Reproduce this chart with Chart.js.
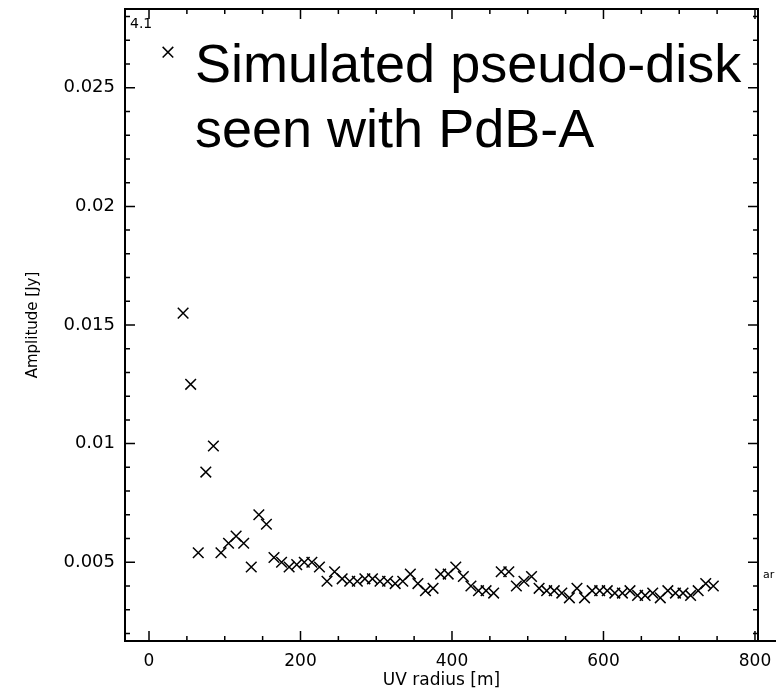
<!DOCTYPE html>
<html>
<head>
<meta charset="utf-8">
<script src="https://cdn.jsdelivr.net/npm/chart.js@4/dist/chart.umd.min.js"></script>
<style>
  html, body { margin: 0; padding: 0; background: #fff; }
  #c { display: block; }
</style>
</head>
<body>
<canvas id="c" width="776" height="691"></canvas>
<script>
// ---- data ----
const uvRadius = [25, 45, 55, 65, 75, 85, 95, 105, 115, 125, 135, 145, 155, 165, 175, 185, 195, 205, 215, 225,
  235, 245, 255, 265, 275, 285, 295, 305, 315, 325, 335, 345, 355, 365, 375, 385, 395, 405, 415, 425,
  435, 445, 455, 465, 475, 485, 495, 505, 515, 525, 535, 545, 555, 565, 575, 585, 595, 605, 615, 625,
  635, 645, 655, 665, 675, 685, 695, 705, 715, 725, 735, 745];
const amplitude = [0.0265, 0.0155, 0.0125, 0.0054, 0.0088, 0.0099, 0.0054, 0.0058, 0.0061, 0.0058, 0.0048, 0.0070, 0.0066, 0.0052, 0.0050, 0.0048, 0.0049, 0.0050, 0.0050, 0.0048,
  0.0042, 0.0046, 0.0043, 0.0042, 0.0042, 0.0043, 0.0043, 0.0042, 0.0042, 0.0041, 0.0042, 0.0045, 0.0041, 0.0038, 0.0039, 0.0045, 0.0045, 0.0048, 0.0044, 0.0040,
  0.0038, 0.0038, 0.0037, 0.0046, 0.0046, 0.0040, 0.0042, 0.0044, 0.0039, 0.0038, 0.0038, 0.0037, 0.0035, 0.0039, 0.0035, 0.0038, 0.0038, 0.0038, 0.0037, 0.0037,
  0.0038, 0.0036, 0.0036, 0.0037, 0.0035, 0.0038, 0.0037, 0.0037, 0.0036, 0.0038, 0.0041, 0.0040];
const xTickLabels = [0, 200, 400, 600, 800];
const yTickLabels = [0.005, 0.01, 0.015, 0.02, 0.025];
const xMinorStep = 50, yMinorStep = 0.001;
const xRange = [-31.7, 804];
const yRange = [0.00168, 0.02832];
const xTitle = 'UV radius [m]';
const yTitle = 'Amplitude [Jy]';
const titleLines = ['Simulated pseudo-disk', 'seen with PdB-A'];
const cornerLabel = '4.1';
const edgeLabel = 'ar';

const points = uvRadius.map((r, i) => ({ x: r, y: amplitude[i] }));

const framePlugin = {
  id: 'frameTicks',
  afterDraw(chart) {
    const { ctx, chartArea: a, scales: { x, y } } = chart;
    ctx.save();
    ctx.strokeStyle = '#000';
    ctx.lineWidth = 2;
    ctx.strokeRect(a.left, a.top, a.right - a.left, a.bottom - a.top);
    ctx.beginPath();
    ctx.moveTo(a.right, a.bottom);
    ctx.lineTo(chart.width, a.bottom);
    ctx.stroke();

    ctx.lineWidth = 1.5;
    ctx.beginPath();
    for (let i = Math.ceil(x.min / xMinorStep); i * xMinorStep <= x.max; i++) {
      const v = i * xMinorStep;
      const px = x.getPixelForValue(v);
      const len = xTickLabels.includes(v) ? 10 : 5;
      ctx.moveTo(px, a.bottom); ctx.lineTo(px, a.bottom - len);
      ctx.moveTo(px, a.top); ctx.lineTo(px, a.top + len);
    }
    for (let i = Math.ceil(y.min / yMinorStep - 1e-9); i * yMinorStep <= y.max + 1e-12; i++) {
      const v = i * yMinorStep;
      const py = y.getPixelForValue(v);
      const len = yTickLabels.some(t => Math.abs(t - v) < 1e-9) ? 10 : 5;
      ctx.moveTo(a.left, py); ctx.lineTo(a.left + len, py);
      ctx.moveTo(a.right, py); ctx.lineTo(a.right - len, py);
    }
    ctx.stroke();

    ctx.fillStyle = '#000';
    ctx.textAlign = 'left';
    ctx.textBaseline = 'alphabetic';
    ctx.font = '14px "DejaVu Sans"';
    ctx.fillText(cornerLabel, a.left + 5, a.top + 19);
    ctx.font = '11px "DejaVu Sans"';
    ctx.fillText(edgeLabel, a.right + 5, y.getPixelForValue(0.0045) + 4);

    ctx.font = '54px "Liberation Sans", Arial, sans-serif';
    ctx.fillText(titleLines[0], 195, 82);
    ctx.fillText(titleLines[1], 195, 147);
    ctx.restore();
  }
};

new Chart(document.getElementById('c'), {
  type: 'scatter',
  data: {
    datasets: [{
      data: points,
      pointStyle: 'crossRot',
      pointRadius: 7.5,
      pointHoverRadius: 7.5,
      borderColor: '#000',
      backgroundColor: '#000',
      pointBorderWidth: 1.5,
      showLine: false
    }]
  },
  options: {
    responsive: false,
    animation: false,
    events: [],
    layout: { padding: { top: 7, right: 18, left: 0, bottom: 0 } },
    plugins: { legend: { display: false }, tooltip: { enabled: false }, title: { display: false } },
    scales: {
      x: {
        type: 'linear',
        position: 'bottom',
        min: xRange[0], max: xRange[1],
        grid: { display: false, drawTicks: false },
        border: { display: false },
        afterBuildTicks(s) { s.ticks = xTickLabels.map(v => ({ value: v })); },
        ticks: {
          color: '#000',
          font: { family: '"DejaVu Sans"', size: 17 },
          padding: 10,
          maxRotation: 0,
          autoSkip: false,
          callback: v => String(v)
        },
        title: {
          display: true, text: xTitle, color: '#000',
          font: { family: '"DejaVu Sans"', size: 17 },
          padding: { top: 0, bottom: 0 }
        },
        afterFit(s) { s.height = 50; s.paddingLeft = 0; s.paddingRight = 0; }
      },
      y: {
        type: 'linear',
        position: 'left',
        min: yRange[0], max: yRange[1],
        grid: { display: false, drawTicks: false },
        border: { display: false },
        afterBuildTicks(s) { s.ticks = yTickLabels.map(v => ({ value: v })); },
        ticks: {
          color: '#000',
          font: { family: '"DejaVu Sans"', size: 18 },
          padding: 10,
          autoSkip: false,
          callback: v => String(+v.toFixed(3))
        },
        title: {
          display: true, text: yTitle, color: '#000',
          font: { family: '"DejaVu Sans"', size: 15 },
          padding: { top: 24, bottom: 0 }
        },
        afterFit(s) { s.width = 125; s.paddingTop = 0; s.paddingBottom = 0; }
      }
    }
  },
  plugins: [framePlugin]
});
</script>
</body>
</html>
